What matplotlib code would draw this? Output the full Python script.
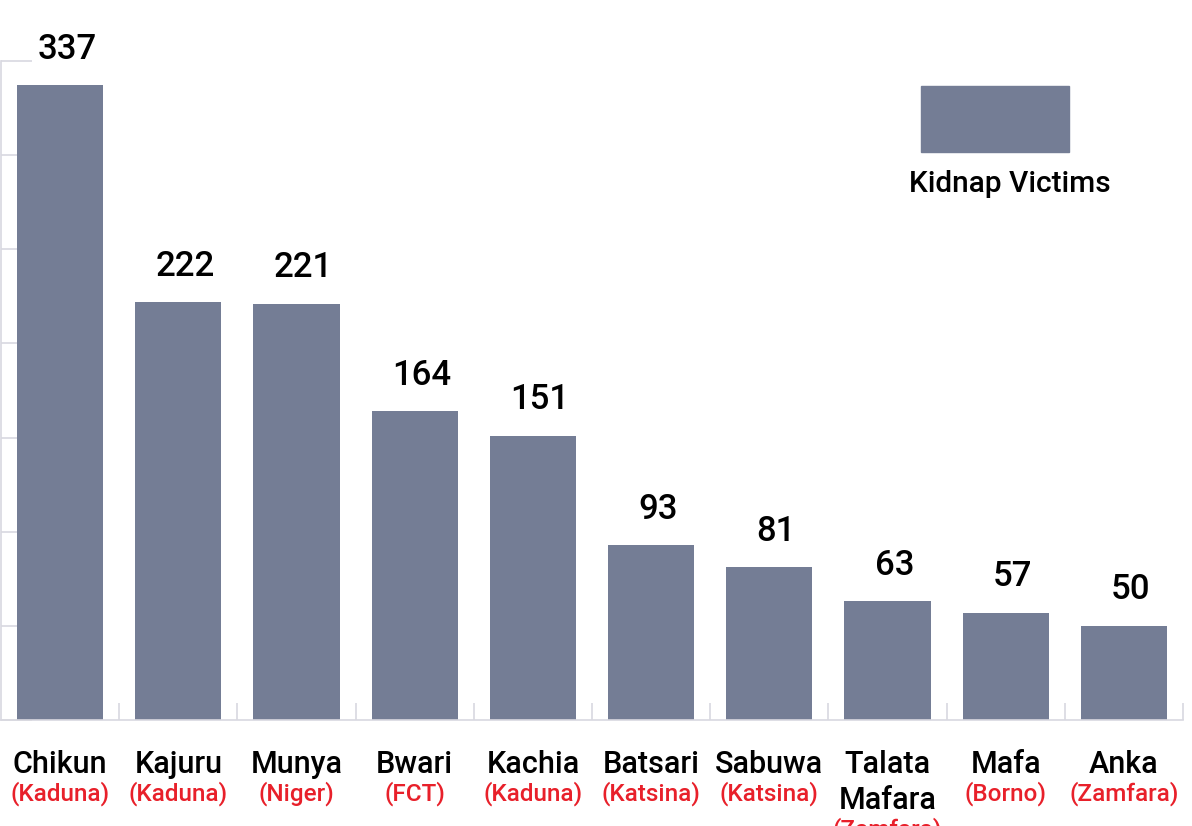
import numpy as np
import matplotlib.pyplot as plt
from matplotlib.patches import Rectangle

plt.rcParams["font.family"] = ["Roboto", "DejaVu Sans"]
plt.rcParams["font.weight"] = 500

# Kidnap victims per district (state in brackets)
districts = ["Chikun", "Kajuru", "Munya", "Bwari", "Kachia",
             "Batsari", "Sabuwa", "Talata\nMafara", "Mafa", "Anka"]
states = ["(Kaduna)", "(Kaduna)", "(Niger)", "(FCT)", "(Kaduna)",
          "(Katsina)", "(Katsina)", "(Zamfara)", "(Borno)", "(Zamfara)"]
victims = [337, 222, 221, 164, 151, 93, 81, 63, 57, 50]

BAR_COLOR = "#747d95"
GRID_COLOR = "#d8d8e0"
RED = "#e8202a"

fig = plt.figure(figsize=(11.92, 8.26), dpi=100)
ax = fig.add_axes([1 / 1192, 106 / 826, 1182 / 1192, 659 / 826])

x = np.arange(len(districts))
bars = ax.bar(x, victims, width=0.73, color=BAR_COLOR, zorder=2)

# value labels above the bars
for xi, v in zip(x, victims):
    ax.annotate(str(v), (xi, v), xytext=(5, 19), textcoords="offset points",
                ha="center", va="baseline", fontsize=25, color="black")

ax.set_xlim(-0.5, len(districts) - 0.5)
ax.set_ylim(0, 350)
ax.set_axisbelow(True)

for side in ("top", "right"):
    ax.spines[side].set_visible(False)
for side in ("left", "bottom"):
    ax.spines[side].set_color(GRID_COLOR)
    ax.spines[side].set_linewidth(1.2)

ax.set_yticks(np.arange(0, 351, 50))
ax.set_yticklabels([])
ax.tick_params(axis="y", direction="in", length=22, color=GRID_COLOR, width=1.2)

ax.set_xticks(x + 0.5)
ax.set_xticklabels([])
ax.tick_params(axis="x", direction="in", length=12, color=GRID_COLOR, width=1.2)

# category labels: district name in black, state in red below
line_step = 36 / 659  # one text line, in axes fraction
trans = ax.get_xaxis_transform()
for xi, name, st in zip(x, districts, states):
    lines = name.split("\n")
    for i, line in enumerate(lines):
        ax.text(xi, -53 / 659 - i * line_step, line, transform=trans,
                ha="center", va="baseline", fontsize=22, color="black")
    ax.text(xi, -81 / 659 - (len(lines) - 1) * line_step, st, transform=trans,
            ha="center", va="baseline", fontsize=17.5, color=RED)

# legend drawn by hand: swatch with label below
fig.patches.append(Rectangle((921 / 1192, 1 - 152 / 826), 148 / 1192, 66 / 826,
                             transform=fig.transFigure, color=BAR_COLOR))
fig.text(1010 / 1192, 1 - 184 / 826, "Kidnap Victims", ha="center", va="center",
         fontsize=21.5, color="black")

fig.savefig("out.png", dpi=100)
